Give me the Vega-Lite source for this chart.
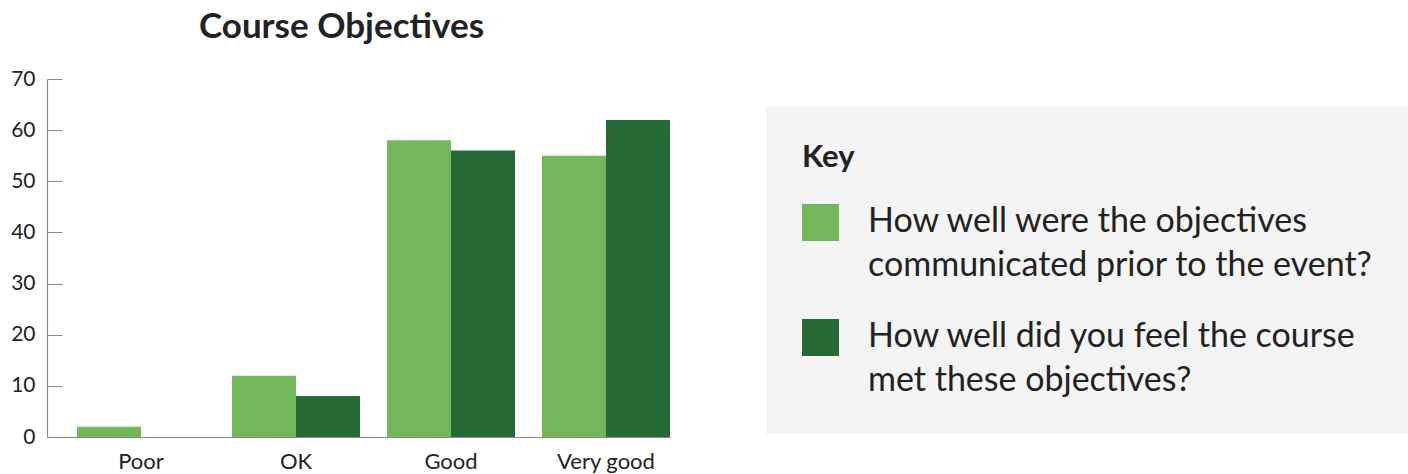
{
  "$schema": "https://vega.github.io/schema/vega-lite/v6.json",
  "autosize": {"type": "none"},
  "padding": {"left": 47, "top": 79, "right": 738, "bottom": 37},
  "width": 623,
  "height": 358,
  "title": {
    "text": "Course Objectives",
    "font": "Lato",
    "fontSize": 35,
    "fontWeight": "bold",
    "color": "#222222",
    "anchor": "middle",
    "offset": 23,
    "dx": -17
  },
  "data": {
    "values": [
      {"rating": "Poor", "question": "How well were the objectives|communicated prior to the event?", "count": 2},
      {"rating": "OK", "question": "How well were the objectives|communicated prior to the event?", "count": 12},
      {"rating": "OK", "question": "How well did you feel the course|met these objectives?", "count": 8},
      {"rating": "Good", "question": "How well were the objectives|communicated prior to the event?", "count": 58},
      {"rating": "Good", "question": "How well did you feel the course|met these objectives?", "count": 56},
      {"rating": "Very good", "question": "How well were the objectives|communicated prior to the event?", "count": 55},
      {"rating": "Very good", "question": "How well did you feel the course|met these objectives?", "count": 62}
    ]
  },
  "mark": {"type": "bar"},
  "encoding": {
    "x": {
      "field": "rating",
      "type": "nominal",
      "sort": ["Poor", "OK", "Good", "Very good"],
      "scale": {"paddingInner": 0.174, "paddingOuter": 0.0967, "align": 1},
      "axis": {
        "title": null,
        "labelAngle": 0,
        "ticks": false,
        "labelFont": "Lato",
        "labelFontSize": 22,
        "labelColor": "#222222",
        "labelPadding": 14,
        "domainColor": "#8a8a8a",
        "domainWidth": 1.2
      }
    },
    "xOffset": {
      "field": "question",
      "type": "nominal",
      "sort": ["How well were the objectives|communicated prior to the event?", "How well did you feel the course|met these objectives?"]
    },
    "y": {
      "field": "count",
      "type": "quantitative",
      "scale": {"domain": [0, 70]},
      "axis": {
        "title": null,
        "values": [0, 10, 20, 30, 40, 50, 60, 70],
        "grid": false,
        "tickSize": -15,
        "tickColor": "#8a8a8a",
        "domainColor": "#8a8a8a",
        "domainWidth": 1.2,
        "labelPadding": 27,
        "labelFont": "Lato",
        "labelFontSize": 21,
        "labelColor": "#222222"
      }
    },
    "color": {
      "field": "question",
      "type": "nominal",
      "sort": ["How well were the objectives|communicated prior to the event?", "How well did you feel the course|met these objectives?"],
      "scale": {"range": ["#72B85A", "#266934"]},
      "legend": {
        "title": "Key",
        "orient": "none",
        "legendX": 719,
        "legendY": 28,
        "fillColor": "#F4F4F4",
        "padding": 36,
        "titleFont": "Lato",
        "titleFontSize": 31,
        "titleFontWeight": "bold",
        "titleColor": "#222222",
        "titlePadding": 30,
        "symbolType": "square",
        "symbolSize": 1369,
        "symbolStrokeWidth": 0,
        "symbolOpacity": 1,
        "labelFont": "Lato",
        "labelFontSize": 34,
        "labelColor": "#222222",
        "labelLimit": 700,
        "labelOffset": 29,
        "labelBaseline": "alphabetic",
        "rowPadding": 36,
        "labelExpr": "split(datum.label, '|')",
        "encode": {"labels": {"update": {"dy": {"value": 9}}}}
      }
    }
  },
  "config": {
    "view": {"stroke": null},
    "style": {"guide-label": {"lineHeight": 44}}
  }
}
